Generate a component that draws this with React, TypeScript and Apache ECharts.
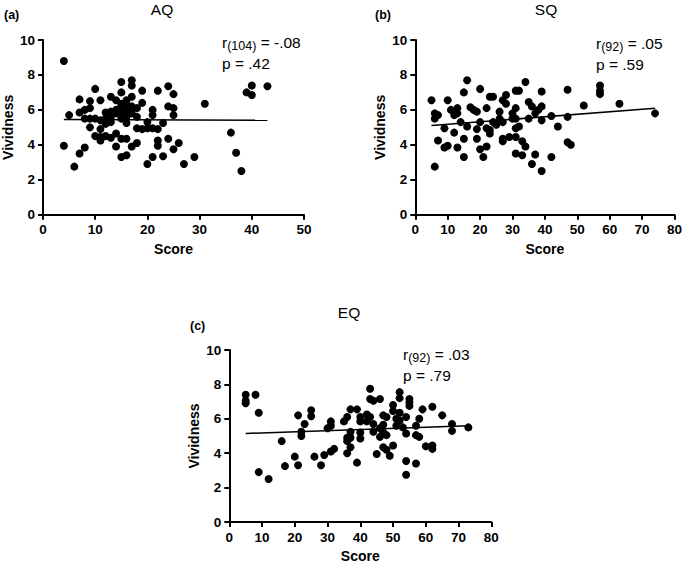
import React, { useEffect, useRef } from "react";
import * as echarts from "echarts";

// ---------- data ----------
const aqPoints: number[][] = [
  [4, 8.8], [4, 3.95], [5, 5.7], [6, 2.75], [7, 6.6], [7, 3.5], [7, 5.85],
  [8, 3.85], [8, 5.5], [8, 6.0], [9, 6.5], [9, 5.0], [9, 6.1], [9, 5.5],
  [10, 7.2], [10, 5.5], [10, 4.5], [11, 6.55], [11, 4.45], [11, 4.25], [11, 4.9], [11, 5.4],
  [12, 5.85], [12, 4.5], [12, 5.2], [12, 5.5], [13, 6.75], [13, 4.4], [13, 5.6], [13, 5.3], [13, 5.9],
  [14, 6.55], [14, 3.9], [14, 4.65], [14, 6.0], [14, 5.8],
  [15, 7.6], [15, 7.0], [15, 3.3], [15, 4.35], [15, 6.35], [15, 5.8], [15, 6.2], [15, 5.9], [15, 5.5],
  [16, 6.1], [16, 3.4], [16, 4.35], [16, 5.25], [16, 6.55], [16, 5.6], [16, 5.9], [16, 6.3], [16, 6.0], [16, 5.7],
  [17, 7.7], [17, 7.4], [17, 3.9], [17, 6.2], [17, 6.75], [17, 5.8], [17, 6.1],
  [18, 5.6], [18, 4.95], [18, 4.1], [18, 6.1],
  [19, 7.1], [19, 6.4], [19, 4.9], [20, 2.9], [20, 4.95], [20, 5.3],
  [21, 6.0], [21, 5.7], [21, 3.3], [21, 4.95], [22, 7.1], [22, 3.95], [22, 4.25], [22, 4.9],
  [23, 3.35], [23, 5.25], [24, 7.35], [24, 6.2], [24, 4.35],
  [25, 6.9], [25, 6.1], [25, 5.7], [25, 3.75], [26, 4.1], [27, 2.9], [29, 3.3], [31, 6.35],
  [36, 4.7], [37, 3.55], [38, 2.5], [39, 7.0], [40, 6.85], [40, 7.4], [43, 7.35],
];

const sqPoints: number[][] = [
  [5, 6.55], [6, 2.75], [6, 5.8], [6, 5.5], [7, 4.25], [7, 5.7], [9, 4.95], [9, 3.85],
  [10, 6.55], [10, 3.95], [11, 6.0], [12, 4.7], [12, 5.7], [13, 6.1], [13, 3.85], [13, 5.8],
  [14, 5.3], [15, 7.0], [15, 3.3], [15, 4.35], [16, 7.7], [16, 5.05], [17, 6.15], [18, 6.0],
  [19, 5.9], [19, 4.9], [19, 4.35], [20, 7.2], [20, 5.3], [20, 3.75], [21, 3.3],
  [22, 3.9], [22, 6.1], [22, 4.95], [23, 6.75], [23, 4.85], [23, 4.65], [24, 6.75], [24, 5.3],
  [25, 5.15], [26, 5.9], [26, 5.5], [27, 6.55], [27, 5.3], [27, 4.35], [27, 4.2],
  [28, 6.85], [28, 6.35], [29, 4.45], [30, 5.8], [30, 5.5],
  [31, 7.1], [31, 6.1], [31, 4.45], [31, 3.5], [31, 4.95], [31, 5.5], [32, 7.1], [32, 5.05],
  [33, 4.2], [33, 3.4], [34, 7.6], [34, 3.9], [35, 6.45], [35, 5.5], [36, 6.2], [36, 2.9],
  [37, 3.45], [37, 5.8], [38, 6.0], [39, 7.05], [39, 6.2], [39, 5.4], [39, 2.5],
  [42, 5.65], [42, 3.3], [44, 5.05], [47, 7.15], [47, 5.6], [47, 4.15], [48, 4.0],
  [52, 6.25], [57, 7.4], [57, 7.1], [57, 6.9], [63, 6.35], [74, 5.8],
];

const eqPoints: number[][] = [
  [5, 7.4], [5, 7.05], [5, 6.9], [8, 7.4], [9, 6.35], [9, 2.9], [12, 2.5], [16, 4.7], [17, 3.25],
  [20, 3.8], [21, 6.2], [21, 3.3], [22, 5.0], [22, 5.25], [23, 5.7], [25, 6.5], [25, 6.15],
  [26, 3.8], [28, 3.3], [29, 3.9], [30, 5.45], [31, 5.85], [31, 5.6], [31, 4.1], [32, 4.25],
  [35, 5.85], [36, 6.1], [36, 4.0], [36, 4.9], [36, 4.7], [37, 6.55], [37, 5.25], [37, 4.9], [37, 4.35],
  [39, 6.55], [39, 3.45], [40, 6.1], [40, 5.85], [40, 5.2], [40, 4.85], [42, 6.25], [42, 5.85],
  [43, 7.75], [43, 7.15], [43, 6.1], [44, 7.05], [44, 5.7], [44, 5.25], [45, 3.95],
  [46, 7.15], [46, 5.45], [46, 4.95], [47, 6.2], [47, 5.65], [47, 5.2], [47, 4.35],
  [48, 6.1], [48, 5.05], [48, 4.2], [49, 3.85], [50, 6.8], [50, 6.45], [50, 4.45],
  [51, 5.6], [51, 6.0], [52, 7.55], [52, 7.2], [52, 6.35], [52, 5.9], [53, 5.5],
  [54, 6.1], [54, 5.15], [54, 3.55], [54, 2.75], [55, 7.15], [55, 6.95], [55, 6.75],
  [57, 5.6], [57, 5.05], [57, 3.4], [58, 6.0], [58, 4.95], [59, 6.55], [60, 4.4],
  [62, 6.7], [62, 4.45], [62, 4.25], [65, 6.2], [68, 5.7], [68, 5.3], [73, 5.5],
];

const aqFit: number[][] = [[4, 5.45], [43, 5.4]];
const sqFit: number[][] = [[5, 5.1], [74, 6.1]];
const eqFit: number[][] = [[5, 5.15], [73, 5.6]];

const panelLabels = ["(a)", "(b)", "(c)"];
const panelTitles = ["AQ", "SQ", "EQ"];
const dfs = ["104", "92", "92"];
const rValues = ["-.08", ".05", ".03"];
const pValues = [".42", ".59", ".79"];
const xMaxes = [50, 80, 80];
const yMax = 10;
const xLabel = "Score";
const yLabel = "Vividness";

const FONT = "'Liberation Sans', Arial, Helvetica, sans-serif";

export default function App() {
  const ref = useRef<HTMLDivElement>(null);

  useEffect(() => {
    document.body.style.margin = "0";
    if (!ref.current) return;
    const chart = echarts.init(ref.current, null, { renderer: "svg" });

    const grids = [
      { left: 42, top: 40, width: 262, height: 174.7 },
      { left: 415.3, top: 40, width: 262, height: 174.7 },
      { left: 229.3, top: 350, width: 262, height: 174.7 },
    ];

    const axisCommon = {
      axisLine: { show: true, onZero: false, lineStyle: { color: "#000", width: 2 } },
      axisTick: { show: true, inside: false, length: 5, lineStyle: { color: "#000", width: 2 } },
      splitLine: { show: false },
      axisLabel: { color: "#000", fontWeight: "bold", fontSize: 13.5, fontFamily: FONT, margin: 8 },
      nameLocation: "middle",
      nameTextStyle: { color: "#000", fontWeight: "bold", fontSize: 14, fontFamily: FONT },
    };

    const xAxes = xMaxes.map((mx, i) => ({
      ...axisCommon,
      type: "value",
      gridIndex: i,
      min: 0,
      max: mx,
      interval: 10,
      name: xLabel,
      nameGap: 27,
    }));
    const yAxes = xMaxes.map((_, i) => ({
      ...axisCommon,
      type: "value",
      gridIndex: i,
      min: 0,
      max: yMax,
      interval: 2,
      name: yLabel,
      nameGap: 28,
    }));

    const pointSets = [aqPoints, sqPoints, eqPoints];
    const fits = [aqFit, sqFit, eqFit];
    const series: any[] = [];
    pointSets.forEach((pts, i) => {
      series.push({
        type: "scatter",
        xAxisIndex: i,
        yAxisIndex: i,
        data: pts,
        symbol: "circle",
        symbolSize: 8,
        itemStyle: { color: "#000", opacity: 1 },
        silent: true,
      });
      series.push({
        type: "line",
        xAxisIndex: i,
        yAxisIndex: i,
        data: fits[i],
        symbol: "none",
        lineStyle: { color: "#000", width: 1.5 },
        silent: true,
      });
    });

    const labelPos = [
      { x: 4, y: 15 },
      { x: 375, y: 15 },
      { x: 190, y: 326 },
    ];
    const titlePos = [
      { x: 162, y: 9 },
      { x: 546, y: 9 },
      { x: 349, y: 312 },
    ];
    const statPos = [
      { x: 222, y: 42 },
      { x: 596, y: 43 },
      { x: 403, y: 354 },
    ];

    const graphics: any[] = [];
    for (let i = 0; i < 3; i++) {
      graphics.push({
        type: "text",
        x: labelPos[i].x,
        y: labelPos[i].y,
        style: {
          text: panelLabels[i],
          fill: "#000",
          font: `bold 12.5px ${FONT}`,
          align: "left",
          verticalAlign: "middle",
        },
      });
      graphics.push({
        type: "text",
        x: titlePos[i].x,
        y: titlePos[i].y,
        style: {
          text: panelTitles[i],
          fill: "#000",
          font: `15.5px ${FONT}`,
          align: "center",
          verticalAlign: "middle",
        },
      });
      graphics.push({
        type: "text",
        x: statPos[i].x,
        y: statPos[i].y,
        style: {
          text: `{m|r}{s|(${dfs[i]})}{m| = ${rValues[i]}}`,
          fill: "#000",
          align: "left",
          verticalAlign: "middle",
          rich: {
            m: { fontSize: 15.5, fontFamily: FONT, lineHeight: 21, fill: "#000", color: "#000" },
            s: {
              fontSize: 12.5,
              fontFamily: FONT,
              lineHeight: 11,
              verticalAlign: "bottom",
              fill: "#000",
              color: "#000",
            },
          },
        },
      });
      graphics.push({
        type: "text",
        x: statPos[i].x,
        y: statPos[i].y + 21,
        style: {
          text: `p = ${pValues[i]}`,
          fill: "#000",
          font: `15.5px ${FONT}`,
          align: "left",
          verticalAlign: "middle",
        },
      });
    }

    chart.setOption({
      animation: false,
      backgroundColor: "#fff",
      grid: grids,
      xAxis: xAxes,
      yAxis: yAxes,
      series,
      graphic: graphics,
    });

    return () => chart.dispose();
  }, []);

  return (
    <div
      ref={ref}
      style={{ position: "absolute", left: 0, top: 0, width: 685, height: 564 }}
    />
  );
}
